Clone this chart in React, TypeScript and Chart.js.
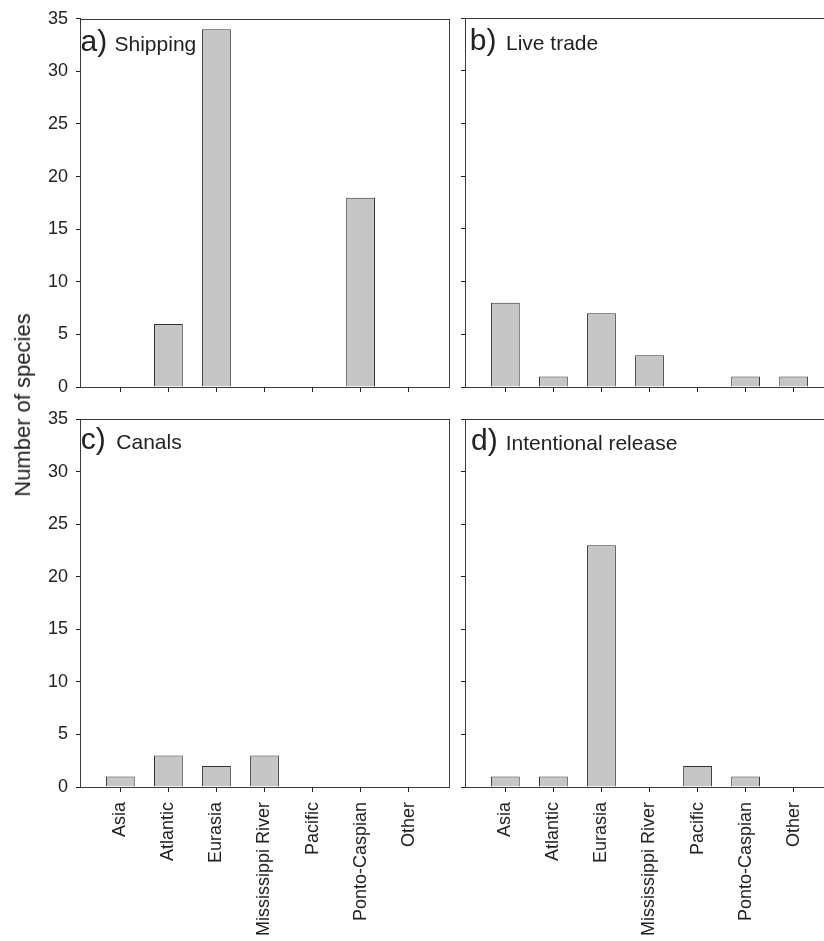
import React, { useEffect, useRef } from "react";
import { Chart, registerables } from "chart.js";

Chart.register(...registerables);

// Source regions of the species
const CATEGORIES = [
  "Asia",
  "Atlantic",
  "Eurasia",
  "Mississippi River",
  "Pacific",
  "Ponto-Caspian",
  "Other",
];

// Number of species per vector
const SHIPPING = [0, 6, 34, 0, 0, 18, 0];
const LIVE_TRADE = [8, 1, 7, 3, 0, 1, 1];
const CANALS = [1, 3, 2, 3, 0, 0, 0];
const INTENTIONAL_RELEASE = [1, 1, 23, 0, 2, 1, 0];

const Y_MIN = 0;
const Y_MAX = 35;
const Y_STEP = 5;

const FONT = '"Liberation Sans", Arial, Helvetica, sans-serif';
const INK = "#222";
const FRAME = "#3a3a3a";
const BAR_FILL = "#c6c6c6";
const BAR_EDGE = "#333";

type PanelProps = {
  letter: string;
  title: string;
  values: number[];
  left: number; // canvas position on the page
  top: number;
  width: number;
  height: number;
  area: { l: number; t: number; r: number; b: number }; // plot box in page coordinates
  showYLabels: boolean;
  showXLabels: boolean;
  letterDx: number;
  titleDx: number;
  baselineDy: number;
};

function Panel(p: PanelProps) {
  const ref = useRef<HTMLCanvasElement | null>(null);

  useEffect(() => {
    const canvas = ref.current;
    if (!canvas) return;

    const yAxisWidth = p.area.l - p.left;
    const xAxisHeight = p.top + p.height - p.area.b;
    const padTop = p.area.t - p.top;
    const padRight = p.left + p.width - p.area.r;

    const frameAndTitle = {
      id: "frameAndTitle",
      afterDraw(chart: any) {
        const { ctx, chartArea } = chart;
        ctx.save();
        ctx.strokeStyle = FRAME;
        ctx.lineWidth = 1;
        ctx.strokeRect(
          Math.round(chartArea.left) + 0.5,
          Math.round(chartArea.top) + 0.5,
          Math.round(chartArea.right - chartArea.left),
          Math.round(chartArea.bottom - chartArea.top)
        );
        ctx.fillStyle = INK;
        ctx.textBaseline = "alphabetic";
        ctx.textAlign = "left";
        ctx.font = `30px ${FONT}`;
        ctx.fillText(p.letter, chartArea.left + p.letterDx, chartArea.top + p.baselineDy);
        ctx.font = `21px ${FONT}`;
        ctx.fillText(p.title, chartArea.left + p.titleDx, chartArea.top + p.baselineDy);
        ctx.restore();
      },
    };

    const chart = new Chart(canvas, {
      type: "bar",
      data: {
        datasets: [
          {
            data: p.values.map((v, i) => ({ x: i, y: v })),
            backgroundColor: BAR_FILL,
            borderColor: BAR_EDGE,
            borderWidth: 1,
            barPercentage: 0.6,
            categoryPercentage: 1,
          },
        ],
      },
      options: {
        animation: false,
        responsive: false,
        maintainAspectRatio: false,
        layout: { padding: { left: 0, top: padTop, right: padRight, bottom: 0 } },
        plugins: {
          legend: { display: false },
          tooltip: { enabled: false },
          title: { display: false },
        },
        scales: {
          x: {
            type: "linear",
            offset: false,
            min: -0.84,
            max: CATEGORIES.length - 1 + 0.84,
            afterBuildTicks: (scale: any) => {
              scale.ticks = CATEGORIES.map((_, i) => ({ value: i }));
            },
            afterFit: (scale: any) => {
              scale.height = xAxisHeight;
            },
            grid: {
              offset: false,
              drawOnChartArea: false,
              drawTicks: true,
              tickLength: 5,
              color: INK,
            },
            border: { display: true, color: INK, width: 1 },
            ticks: {
              display: p.showXLabels,
              autoSkip: false,
              minRotation: 90,
              maxRotation: 90,
              padding: 10,
              color: INK,
              font: { family: FONT, size: 18 },
              callback: (v: any) => CATEGORIES[Math.round(Number(v))] ?? "",
            },
          },
          y: {
            min: Y_MIN,
            max: Y_MAX,
            afterFit: (scale: any) => {
              scale.width = yAxisWidth;
            },
            grid: {
              drawOnChartArea: false,
              drawTicks: true,
              tickLength: 4,
              color: INK,
            },
            border: { display: true, color: INK, width: 1 },
            ticks: {
              display: p.showYLabels,
              stepSize: Y_STEP,
              padding: 8,
              color: INK,
              font: { family: FONT, size: 18 },
            },
          },
        },
      },
      plugins: [frameAndTitle],
    } as any);

    return () => chart.destroy();
  }, []);

  return (
    <canvas
      ref={ref}
      width={p.width}
      height={p.height}
      style={{ position: "absolute", left: p.left, top: p.top, width: p.width, height: p.height }}
    />
  );
}

export default function App() {
  return (
    <div
      style={{
        position: "absolute",
        left: 0,
        top: 0,
        width: 824,
        height: 941,
        overflow: "hidden",
        background: "#fff",
      }}
    >
      <Panel
        letter="a)"
        title="Shipping"
        values={SHIPPING}
        left={0}
        top={0}
        width={456}
        height={412}
        area={{ l: 80, t: 18, r: 449, b: 387 }}
        showYLabels={true}
        showXLabels={false}
        letterDx={0.5}
        titleDx={34.5}
        baselineDy={32}
      />
      <Panel
        letter="b)"
        title="Live trade"
        values={LIVE_TRADE}
        left={456}
        top={0}
        width={390}
        height={412}
        area={{ l: 465, t: 18, r: 834, b: 387 }}
        showYLabels={false}
        showXLabels={false}
        letterDx={4.7}
        titleDx={41}
        baselineDy={32}
      />
      <Panel
        letter="c)"
        title="Canals"
        values={CANALS}
        left={0}
        top={395}
        width={456}
        height={546}
        area={{ l: 80, t: 419, r: 449, b: 787 }}
        showYLabels={true}
        showXLabels={true}
        letterDx={0.7}
        titleDx={36.3}
        baselineDy={30}
      />
      <Panel
        letter="d)"
        title="Intentional release"
        values={INTENTIONAL_RELEASE}
        left={456}
        top={395}
        width={390}
        height={546}
        area={{ l: 465, t: 419, r: 834, b: 787 }}
        showYLabels={false}
        showXLabels={true}
        letterDx={6}
        titleDx={40.7}
        baselineDy={31}
      />
      <div
        style={{
          position: "absolute",
          left: 23,
          top: 405,
          transform: "translate(-50%, -50%) rotate(-90deg)",
          whiteSpace: "nowrap",
          fontFamily: FONT,
          fontSize: 22,
          color: INK,
        }}
      >
        Number of species
      </div>
    </div>
  );
}
